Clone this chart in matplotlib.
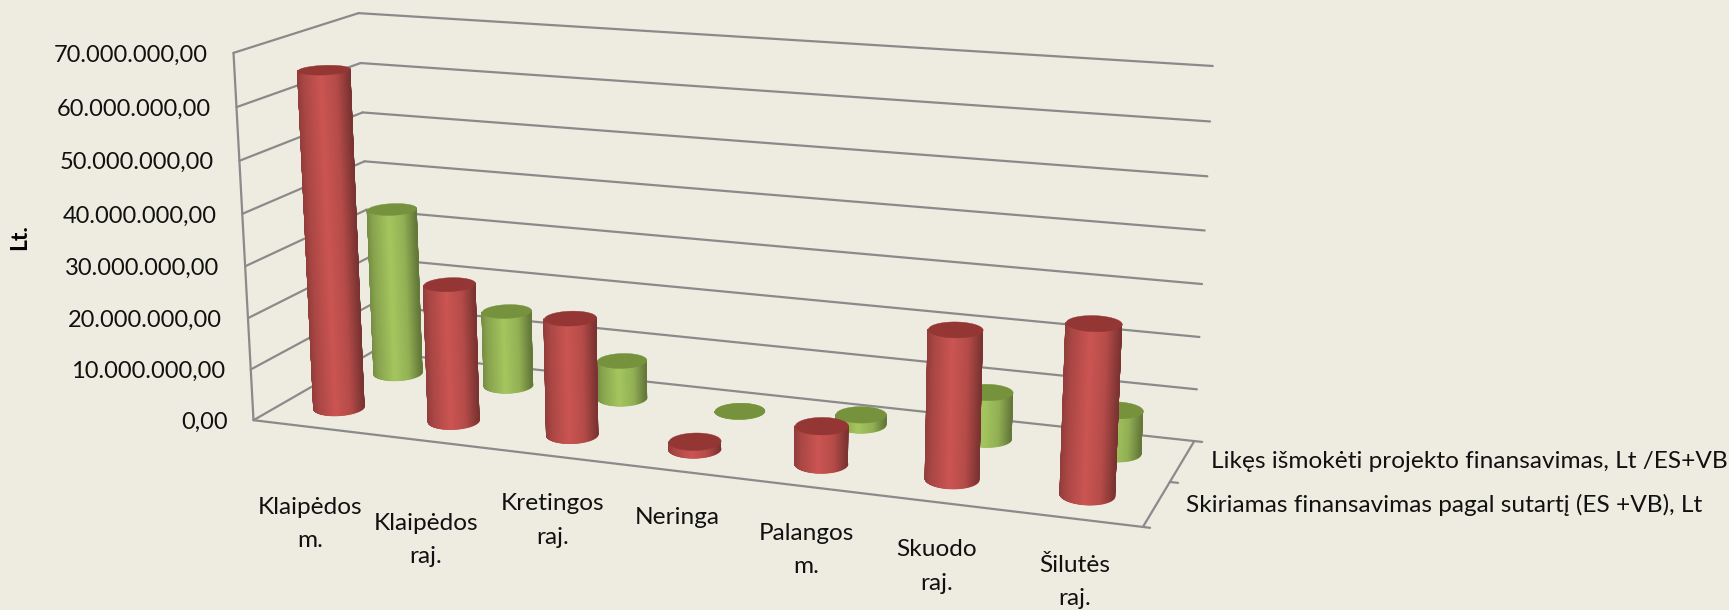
import numpy as np
import matplotlib
matplotlib.use("Agg")
import matplotlib.pyplot as plt
from matplotlib.collections import PolyCollection

categories = [["Klaipėdos", "m."], ["Klaipėdos", "raj."], ["Kretingos", "raj."], ["Neringa"],
              ["Palangos", "m."], ["Skuodo", "raj."], ["Šilutės", "raj."]]
series_names = ["Skiriamas finansavimas pagal sutartį (ES +VB), Lt",
                "Likęs išmokėti projekto finansavimas, Lt /ES+VB"]
granted = [65.5e6, 26.7e6, 22.5e6, 1.5e6, 7.2e6, 27.5e6, 31e6]
remaining = [33.7e6, 15.2e6, 7.6e6, 0.05e6, 2e6, 9e6, 8.2e6]
tick_values = [0, 10e6, 20e6, 30e6, 40e6, 50e6, 60e6, 70e6]
tick_labels = ["0,00", "10.000.000,00", "20.000.000,00", "30.000.000,00", "40.000.000,00",
               "50.000.000,00", "60.000.000,00", "70.000.000,00"]
ZMAX = 70e6
BG = "#EEECE1"
GRID = "#8A8A8A"

# camera fitted on the frame corners: (category, depth, value/ZMAX) -> pixel
anchors = [((0, 0, 0), (252, 420)), ((0, 0, 1), (235, 53)), ((0, 1, 0), (374, 352)), ((0, 1, 1), (357, 13)),
           ((7, 1, 0), (1194, 441)), ((7, 1, 1), (1213, 66)), ((7, 0, 0), (1143, 527))]
A = []
for (X, Y, Z), (u, v) in anchors:
    u, v = u / 1000, v / 1000
    A.append([X, Y, Z, 1, 0, 0, 0, 0, -u * X, -u * Y, -u * Z, -u])
    A.append([0, 0, 0, 0, X, Y, Z, 1, -v * X, -v * Y, -v * Z, -v])
P = np.linalg.svd(np.array(A, float))[2][-1].reshape(3, 4)


def project(x, y, value):
    x, y, z = np.broadcast_arrays(np.asarray(x, float), np.asarray(y, float), np.asarray(value, float) / ZMAX)
    h = np.stack([x, y, z, np.ones_like(x, dtype=float)], axis=-1) @ P.T
    return 1000 * h[..., 0] / h[..., 2], 1000 * h[..., 1] / h[..., 2]


fig = plt.figure(figsize=(17.29, 6.10), dpi=100, facecolor=BG)
ax = fig.add_axes([0, 0, 1, 1])
ax.set_xlim(0, 1729)
ax.set_ylim(610, 0)
ax.axis("off")


def seg(a, b, **kw):
    xs, ys = project([a[0], b[0]], [a[1], b[1]], [a[2], b[2]])
    ax.plot(xs, ys, color=GRID, lw=1.6, solid_capstyle="round", zorder=1, **kw)


for t in tick_values:
    seg((0, 0, t), (0, 1, t))
    seg((0, 1, t), (7, 1, t))
seg((0, 0, 0), (0, 0, ZMAX))
seg((0, 0, 0), (7.05, 0, 0))
seg((7, 0, 0), (7, 1, 0))
seg((7, 0.5, 0), (7.06, 0.5, 0))
seg((7, 1, 0), (7.06, 1, 0))

RX, RY = 0.195, 0.105
STOPS_U = [0, 0.12, 0.45, 0.75, 1]
STOPS_F = [0.76, 0.88, 1.06, 0.94, 0.64]


def cylinder(cx, cy, value, body, top, z):
    th = np.linspace(0, 2 * np.pi, 361)
    bx, by = project(cx + RX * np.cos(th), cy + RY * np.sin(th), 0.0)
    tx, ty = project(cx + RX * np.cos(th), cy + RY * np.sin(th), value)
    i0, i1 = np.argmin(bx), np.argmax(bx)
    # front half runs from the left silhouette to the right one through sin<0
    idx = np.arange(i0, i1 + 1) if i1 > i0 else np.r_[i0:360, 0:i1 + 1]
    lo, hi = bx[idx].min(), bx[idx].max()
    ax.add_collection(PolyCollection([np.c_[bx, by]], facecolors=[body], edgecolors=[body], linewidths=0.4, zorder=z))
    verts, cols = [], []
    base = np.array(matplotlib.colors.to_rgb(body))
    for a, b in zip(idx[:-1], idx[1:]):
        verts.append([(bx[a], by[a]), (bx[b], by[b]), (tx[b], ty[b]), (tx[a], ty[a])])
        u = (0.5 * (bx[a] + bx[b]) - lo) / (hi - lo)
        cols.append(np.clip(base * np.interp(u, STOPS_U, STOPS_F), 0, 1))
    ax.add_collection(PolyCollection(verts, facecolors=cols, edgecolors=cols, linewidths=0.5, zorder=z))
    ax.add_collection(PolyCollection([np.c_[tx, ty]], facecolors=[top], edgecolors=[top], linewidths=0.3, zorder=z + 0.1))


for k, v in enumerate(remaining):
    cylinder(k + 0.485, 0.76, v, "#9BBB59", "#76923C", 2 + k * 0.2)
for k, v in enumerate(granted):
    cylinder(k + 0.47 + 0.004 * k, 0.26, v, "#C0504D", "#943634", 4 + k * 0.2)

FONT = "Lato"
FS = 17
FS2 = 17.6
for t, lab in zip(tick_values, tick_labels):
    x, y = project(0, 0, t)
    ax.text(x - 26, y + 2, lab, ha="right", va="center", fontsize=FS, family=FONT, color="#111111")
ax.text(20, 237, "Lt.", rotation=90, ha="center", va="center", fontsize=16.5, fontweight="bold", family=FONT)

label_xy = [(310, 507), (426, 523), (553, 504), (677, 518), (806, 533), (937, 550), (1075, 565)]
for (x, y), lab in zip(label_xy, categories):
    for j, line in enumerate(lab):
        ax.text(x, y + j * 33.5, line, ha="center", va="center", fontsize=FS2, family=FONT, color="#111111")

ax.text(1186, 505, series_names[0], ha="left", va="center", fontsize=FS2, family=FONT, color="#111111")
ax.text(1211, 461, series_names[1], ha="left", va="center", fontsize=FS2, family=FONT, color="#111111")

fig.savefig("out.png", dpi=100, facecolor=BG)
